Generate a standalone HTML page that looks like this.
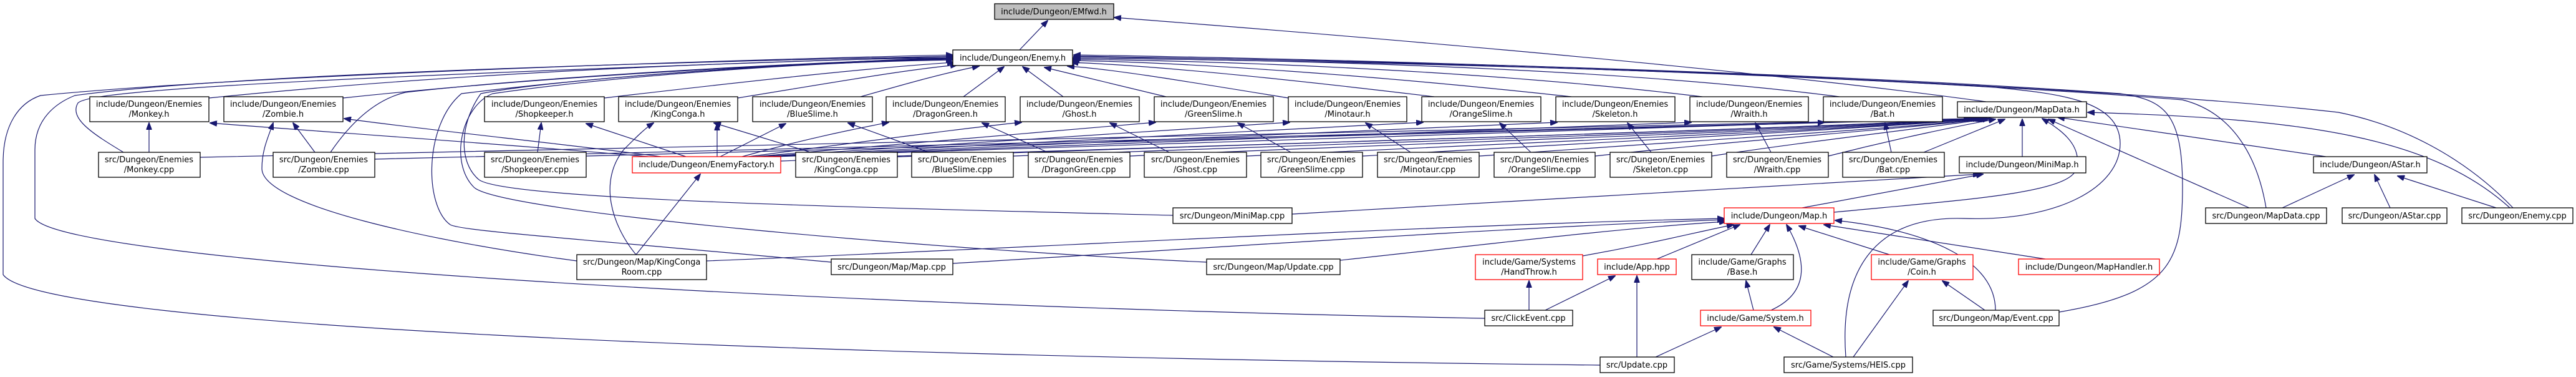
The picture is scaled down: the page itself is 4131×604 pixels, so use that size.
<!DOCTYPE html>
<html><head><meta charset="utf-8"><style>
html,body{margin:0;padding:0;background:#fff;}
svg{display:block;}
text{font-family:"DejaVu Sans","Liberation Sans",sans-serif;font-size:13px;fill:#000;text-anchor:middle;}
.b{fill:#fff;stroke:#000;stroke-width:1.3;}
.r{fill:#fff;stroke:#ff0000;stroke-width:1.3;}
.g{fill:#bfbfbf;stroke:#000;stroke-width:1.3;}
.e{fill:none;stroke:#191970;stroke-width:1.2;}
</style></head><body>
<svg width="4131" height="604" viewBox="0 0 4131 604" xmlns="http://www.w3.org/2000/svg">
<defs><marker id="a" markerWidth="12" markerHeight="9" refX="11" refY="4.5" orient="auto" markerUnits="userSpaceOnUse"><path d="M0,0 L12,4.5 L0,9 z" fill="#191970" stroke="#191970"/></marker></defs>
<g class="e" marker-end="url(#a)">
<!-- Enemy.h -> EMfwd -->
<path d="M1635,80 L1680,33"/>
<path d="M3185,163 C2800,110 2200,60 1787,28"/>
<!-- headers -> Enemy.h -->
<path d="M335,157 C800,110 1300,96 1528,92"/>
<path d="M550,157 C900,120 1300,100 1528,96"/>
<path d="M969,157 C1200,130 1400,108 1530,100"/>
<path d="M1183,157 C1350,130 1450,112 1535,104"/>
<path d="M1380,155 C1450,135 1510,118 1570,106"/>
<path d="M1545,155 L1610,107"/>
<path d="M1705,155 L1640,107"/>
<path d="M1870,155 L1675,108"/>
<path d="M2066,157 C1900,130 1780,110 1712,106"/>
<path d="M2300,155 C2050,125 1850,105 1718,100"/>
<path d="M2520,155 C2200,120 1900,100 1720,97"/>
<path d="M2730,155 C2400,115 2000,98 1720,95"/>
<path d="M2950,155 C2600,110 2100,96 1720,93"/>
<!-- cpp -> headers -->
<path d="M239,244 L239,197"/>
<path d="M505,244 L470,197"/>
<path d="M862,244 L868,197"/>
<path d="M1300,244 L1145,197"/>
<path d="M1490,244 L1360,197"/>
<path d="M1680,244 L1575,197"/>
<path d="M1875,244 L1780,197"/>
<path d="M2070,244 L1985,197"/>
<path d="M2262,244 L2190,197"/>
<path d="M2455,244 L2405,197"/>
<path d="M2648,244 L2610,197"/>
<path d="M2840,244 L2815,197"/>
<path d="M3033,244 L3023,197"/>
<!-- EnemyFactory -> headers -->
<path d="M1040,251 C800,230 500,210 337,197"/>
<path d="M1060,251 C900,230 700,210 552,190"/>
<path d="M1100,251 L940,198"/>
<path d="M1150,251 L1150,198"/>
<path d="M1155,251 L1260,198"/>
<path d="M1190,251 C1300,220 1380,205 1425,196"/>
<path d="M1200,251 C1400,225 1550,205 1638,196"/>
<path d="M1210,251 C1500,225 1750,205 1853,196"/>
<path d="M1220,251 C1600,225 1950,205 2068,196"/>
<path d="M1225,251 C1700,225 2150,205 2282,196"/>
<path d="M1230,251 C1800,225 2350,205 2497,196"/>
<path d="M1235,251 C1900,225 2550,205 2712,196"/>
<path d="M1240,251 C2000,225 2750,205 2926,196"/>
<!-- things -> MapData.h -->
<path d="M321,252 C1200,230 2500,210 3160,190"/>
<path d="M601,255 C1400,232 2600,210 3165,190"/>
<path d="M940,250 C1700,228 2700,208 3168,190"/>
<path d="M1252,258 C2000,230 2800,210 3172,190"/>
<path d="M1439,250 C2100,228 2850,208 3175,190"/>
<path d="M1625,250 C2200,228 2900,208 3178,190"/>
<path d="M1812,250 C2300,228 2950,208 3180,190"/>
<path d="M1999,250 C2500,226 3000,206 3182,190"/>
<path d="M2185,250 C2600,226 3000,206 3184,190"/>
<path d="M2372,250 C2700,226 3050,206 3186,190"/>
<path d="M2558,250 C2800,224 3080,204 3188,190"/>
<path d="M2745,250 C2900,226 3100,204 3190,190"/>
<path d="M2932,250 C3050,220 3150,200 3200,191"/>
<path d="M3085,244 L3215,191"/>
<path d="M3243,251 L3243,191"/>
<path d="M2941,340 C3150,320 3320,310 3330,270 C3340,230 3300,205 3275,190"/>
<path d="M3607,333 L3285,191"/>
<path d="M3730,251 L3300,188"/>
<path d="M4025,333 C3900,220 3700,190 3348,180"/>
<!-- MiniMap.h -->
<path d="M2072,343 C2500,320 2900,295 3175,279"/>
<path d="M2890,333 L3180,279"/>
<!-- AStar.h -->
<path d="M3660,333 L3775,280"/>
<path d="M3833,333 L3808,280"/>
<path d="M4003,333 L3845,282"/>
<!-- Map.h -->
<path d="M1133,418 C1600,400 2300,360 2765,350"/>
<path d="M1528,422 C1900,400 2400,365 2765,352"/>
<path d="M2149,417 C2400,390 2600,365 2768,355"/>
<path d="M2538,410 C2650,390 2720,372 2780,360"/>
<path d="M2657,415 L2790,360"/>
<path d="M2808,408 L2838,360"/>
<path d="M2840,497 C2900,470 2900,420 2865,360"/>
<path d="M3030,408 L2885,362"/>
<path d="M3280,415 L2925,360"/>
<path d="M3200,497 C3200,420 3100,370 2943,353"/>
<!-- lower -->
<path d="M2452,497 L2452,450"/>
<path d="M2478,497 L2590,442"/>
<path d="M2625,572 L2625,442"/>
<path d="M2655,572 L2760,524"/>
<path d="M2812,497 L2800,450"/>
<path d="M2940,572 L2845,524"/>
<path d="M2972,572 L3060,450"/>
<path d="M3183,497 L3115,450"/>
<!-- KingCongaRoom -->
<path d="M1020,408 L1123,279"/>
<path d="M1020,408 C980,360 960,290 1000,240 C1020,220 1035,205 1048,197"/>
<path d="M925,418 C700,388 420,330 420,270 C420,240 430,220 438,197"/>
<!-- long curves to Enemy.h -->
<path d="M2566,585 C1200,570 60,520 5,440 L5,260 C5,200 30,165 65,153 C400,120 1200,95 1528,88"/>
<path d="M2381,510 C1300,490 100,420 56,350 L56,240 C56,190 90,165 120,153 C400,115 1200,97 1528,90"/>
<path d="M198,244 C150,215 110,190 125,165 C140,150 300,130 1528,90"/>
<path d="M530,244 C560,200 600,160 650,148 C900,120 1300,100 1528,93"/>
<path d="M1881,345 C1400,333 800,320 767,287 C736,260 736,200 771,150 C900,125 1300,100 1528,92"/>
<path d="M1333,420 C900,380 740,370 722,360 C680,330 680,200 740,150 C1000,118 1300,100 1528,94"/>
<path d="M1935,420 C1500,400 800,340 760,300 C720,260 740,170 790,150 C1000,120 1300,100 1528,95"/>
<path d="M2960,572 C2950,440 3000,345 3150,350 C3300,355 3400,300 3400,230 C3400,160 3300,150 3200,140 C2700,110 2100,97 1722,93"/>
<path d="M3302,500 C3480,470 3500,420 3500,300 C3500,180 3470,160 3400,150 C2900,115 2200,96 1722,91"/>
<path d="M3634,333 C3620,250 3580,180 3500,160 C3000,120 2200,97 1722,90"/>
<path d="M4030,333 C3950,250 3850,200 3750,180 C3400,140 2500,100 1722,88"/>
</g>
<!-- nodes -->
<rect class="g" x="1595" y="6" width="191" height="25"/><text x="1690" y="23">include/Dungeon/EMfwd.h</text>
<rect class="b" x="1528" y="80" width="192" height="25"/><text x="1624" y="97">include/Dungeon/Enemy.h</text>
<g>
<rect class="b" x="144" y="155" width="191" height="40"/><text x="239" y="171">include/Dungeon/Enemies</text><text x="239" y="187">/Monkey.h</text>
<rect class="b" x="359" y="155" width="191" height="40"/><text x="454" y="171">include/Dungeon/Enemies</text><text x="454" y="187">/Zombie.h</text>
<rect class="b" x="777" y="155" width="192" height="40"/><text x="873" y="171">include/Dungeon/Enemies</text><text x="873" y="187">/Shopkeeper.h</text>
<rect class="b" x="992" y="155" width="191" height="40"/><text x="1087" y="171">include/Dungeon/Enemies</text><text x="1087" y="187">/KingConga.h</text>
<rect class="b" x="1207" y="155" width="192" height="40"/><text x="1303" y="171">include/Dungeon/Enemies</text><text x="1303" y="187">/BlueSlime.h</text>
<rect class="b" x="1421" y="155" width="191" height="40"/><text x="1516" y="171">include/Dungeon/Enemies</text><text x="1516" y="187">/DragonGreen.h</text>
<rect class="b" x="1636" y="155" width="191" height="40"/><text x="1731" y="171">include/Dungeon/Enemies</text><text x="1731" y="187">/Ghost.h</text>
<rect class="b" x="1851" y="155" width="191" height="40"/><text x="1946" y="171">include/Dungeon/Enemies</text><text x="1946" y="187">/GreenSlime.h</text>
<rect class="b" x="2066" y="155" width="190" height="40"/><text x="2161" y="171">include/Dungeon/Enemies</text><text x="2161" y="187">/Minotaur.h</text>
<rect class="b" x="2280" y="155" width="191" height="40"/><text x="2375" y="171">include/Dungeon/Enemies</text><text x="2375" y="187">/OrangeSlime.h</text>
<rect class="b" x="2495" y="155" width="191" height="40"/><text x="2590" y="171">include/Dungeon/Enemies</text><text x="2590" y="187">/Skeleton.h</text>
<rect class="b" x="2710" y="155" width="190" height="40"/><text x="2805" y="171">include/Dungeon/Enemies</text><text x="2805" y="187">/Wraith.h</text>
<rect class="b" x="2924" y="155" width="191" height="40"/><text x="3019" y="171">include/Dungeon/Enemies</text><text x="3019" y="187">/Bat.h</text>
</g>
<rect class="b" x="3139" y="163" width="207" height="25"/><text x="3242" y="180">include/Dungeon/MapData.h</text>
<g>
<rect class="b" x="158" y="244" width="163" height="40"/><text x="239" y="260">src/Dungeon/Enemies</text><text x="239" y="276">/Monkey.cpp</text>
<rect class="b" x="438" y="244" width="163" height="40"/><text x="519" y="260">src/Dungeon/Enemies</text><text x="519" y="276">/Zombie.cpp</text>
<rect class="b" x="777" y="244" width="163" height="40"/><text x="858" y="260">src/Dungeon/Enemies</text><text x="858" y="276">/Shopkeeper.cpp</text>
<rect class="b" x="1276" y="244" width="163" height="40"/><text x="1357" y="260">src/Dungeon/Enemies</text><text x="1357" y="276">/KingConga.cpp</text>
<rect class="b" x="1462" y="244" width="163" height="40"/><text x="1543" y="260">src/Dungeon/Enemies</text><text x="1543" y="276">/BlueSlime.cpp</text>
<rect class="b" x="1649" y="244" width="163" height="40"/><text x="1730" y="260">src/Dungeon/Enemies</text><text x="1730" y="276">/DragonGreen.cpp</text>
<rect class="b" x="1835" y="244" width="164" height="40"/><text x="1917" y="260">src/Dungeon/Enemies</text><text x="1917" y="276">/Ghost.cpp</text>
<rect class="b" x="2022" y="244" width="163" height="40"/><text x="2103" y="260">src/Dungeon/Enemies</text><text x="2103" y="276">/GreenSlime.cpp</text>
<rect class="b" x="2209" y="244" width="163" height="40"/><text x="2290" y="260">src/Dungeon/Enemies</text><text x="2290" y="276">/Minotaur.cpp</text>
<rect class="b" x="2396" y="244" width="162" height="40"/><text x="2477" y="260">src/Dungeon/Enemies</text><text x="2477" y="276">/OrangeSlime.cpp</text>
<rect class="b" x="2582" y="244" width="163" height="40"/><text x="2663" y="260">src/Dungeon/Enemies</text><text x="2663" y="276">/Skeleton.cpp</text>
<rect class="b" x="2769" y="244" width="163" height="40"/><text x="2850" y="260">src/Dungeon/Enemies</text><text x="2850" y="276">/Wraith.cpp</text>
<rect class="b" x="2955" y="244" width="163" height="40"/><text x="3036" y="260">src/Dungeon/Enemies</text><text x="3036" y="276">/Bat.cpp</text>
</g>
<rect class="r" x="1014" y="251" width="238" height="26"/><text x="1133" y="268">include/Dungeon/EnemyFactory.h</text>
<rect class="b" x="3142" y="251" width="203" height="26"/><text x="3243" y="268">include/Dungeon/MiniMap.h</text>
<rect class="b" x="3710" y="251" width="182" height="26"/><text x="3801" y="268">include/Dungeon/AStar.h</text>
<rect class="b" x="1881" y="333" width="191" height="25"/><text x="1976" y="350">src/Dungeon/MiniMap.cpp</text>
<rect class="r" x="2765" y="333" width="176" height="25"/><text x="2853" y="350">include/Dungeon/Map.h</text>
<rect class="b" x="3537" y="333" width="194" height="25"/><text x="3634" y="350">src/Dungeon/MapData.cpp</text>
<rect class="b" x="3756" y="333" width="168" height="25"/><text x="3840" y="350">src/Dungeon/AStar.cpp</text>
<rect class="b" x="3948" y="333" width="178" height="25"/><text x="4037" y="350">src/Dungeon/Enemy.cpp</text>
<rect class="b" x="925" y="408" width="208" height="40"/><text x="1029" y="424">src/Dungeon/Map/KingConga</text><text x="1029" y="440">Room.cpp</text>
<rect class="r" x="2366" y="408" width="172" height="40"/><text x="2452" y="424">include/Game/Systems</text><text x="2452" y="440">/HandThrow.h</text>
<rect class="b" x="2713" y="408" width="163" height="40"/><text x="2794" y="424">include/Game/Graphs</text><text x="2794" y="440">/Base.h</text>
<rect class="r" x="3001" y="408" width="163" height="40"/><text x="3082" y="424">include/Game/Graphs</text><text x="3082" y="440">/Coin.h</text>
<rect class="b" x="1333" y="415" width="195" height="25"/><text x="1430" y="432">src/Dungeon/Map/Map.cpp</text>
<rect class="b" x="1935" y="415" width="214" height="25"/><text x="2042" y="432">src/Dungeon/Map/Update.cpp</text>
<rect class="r" x="2562" y="415" width="126" height="25"/><text x="2625" y="432">include/App.hpp</text>
<rect class="r" x="3237" y="415" width="226" height="25"/><text x="3350" y="432">include/Dungeon/MapHandler.h</text>
<rect class="b" x="2381" y="497" width="141" height="25"/><text x="2451" y="514">src/ClickEvent.cpp</text>
<rect class="r" x="2727" y="497" width="177" height="25"/><text x="2815" y="514">include/Game/System.h</text>
<rect class="b" x="3100" y="497" width="202" height="25"/><text x="3201" y="514">src/Dungeon/Map/Event.cpp</text>
<rect class="b" x="2566" y="572" width="119" height="25"/><text x="2625" y="589">src/Update.cpp</text>
<rect class="b" x="2861" y="572" width="206" height="25"/><text x="2964" y="589">src/Game/Systems/HEIS.cpp</text>
</svg>
</body></html>
